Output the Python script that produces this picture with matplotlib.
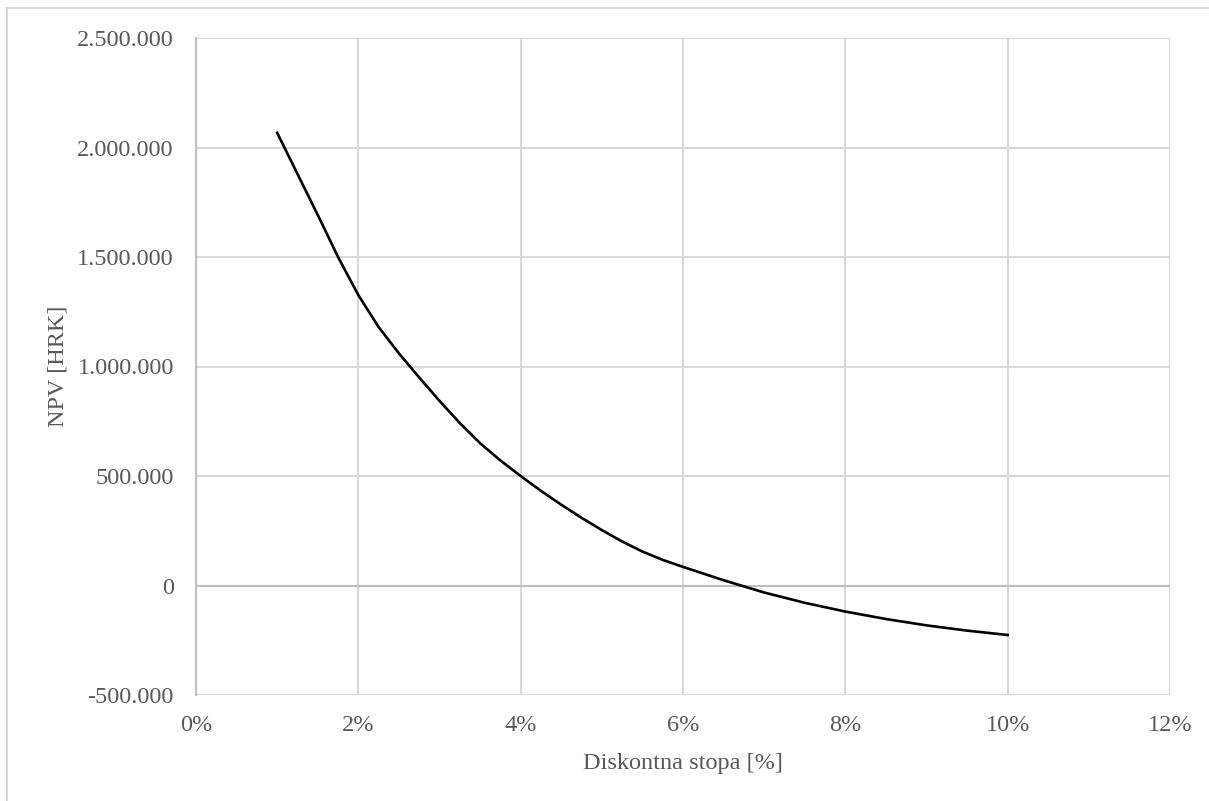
import matplotlib
matplotlib.use("Agg")
import matplotlib.pyplot as plt
from matplotlib.ticker import FuncFormatter, MultipleLocator
from matplotlib.patches import Rectangle

# Discount rate [%] and NPV [HRK]
rate_pct = [1.0, 1.5, 1.75, 2.0, 2.25, 2.5, 2.75, 3.0, 3.25, 3.5, 3.75,
            4.0, 4.25, 4.5, 4.75, 5.0, 5.25, 5.5, 5.75, 6.0, 6.5, 7.0,
            7.5, 8.0, 8.5, 9.0, 9.5, 10.0]
npv = [2067000, 1692000, 1500000, 1326000, 1180000, 1060000, 950000,
       843000, 742000, 650000, 571000, 500000, 432000, 369000, 309000,
       253000, 201000, 155000, 117000, 85000, 24000, -32000, -79000,
       -119000, -153000, -182000, -206000, -226000]

x_label = "Diskontna stopa [%]"
y_label = "NPV [HRK]"

plt.rcParams['font.family'] = ['Liberation Serif', 'DejaVu Serif']

fig = plt.figure(figsize=(12.09, 8.01), dpi=100)
ax = fig.add_axes([196/1209, 1-695/801, (1170-196)/1209, (695-38)/801])

# outer chart border (Excel chart area)
fig.patches.append(Rectangle((7/1209, -0.05), 1.2, 1-8/801+0.05,
                             transform=fig.transFigure, fill=False,
                             edgecolor='#d9d9d9', linewidth=1.5))

ax.plot([r / 100 for r in rate_pct], npv, color='black', linewidth=1.9,
        solid_joinstyle='round', zorder=3)

ax.set_xlim(0, 0.12)
ax.set_ylim(-500000, 2500000)
ax.xaxis.set_major_locator(MultipleLocator(0.02))
ax.yaxis.set_major_locator(MultipleLocator(500000))
ax.xaxis.set_major_formatter(FuncFormatter(lambda v, p: f"{round(v*100)}%"))
ax.yaxis.set_major_formatter(FuncFormatter(
    lambda v, p: f"{int(round(v)):,}".replace(",", ".")))

ax.grid(True, color='#d9d9d9', linewidth=1.5)
ax.set_axisbelow(True)
ax.axhline(0, color='#bfbfbf', linewidth=1.5, zorder=2)

for s in ['top', 'right', 'bottom']:
    ax.spines[s].set_visible(False)
ax.spines['left'].set_color('#bfbfbf')
ax.spines['left'].set_linewidth(1.5)

ax.tick_params(axis='both', length=0, labelsize=17.5, colors='#595959')
ax.tick_params(axis='y', pad=16)
ax.tick_params(axis='x', pad=14.5)

ax.set_xlabel(x_label, fontsize=17.5, color='#595959', labelpad=12)
ax.set_ylabel(y_label, fontsize=17.5, color='#595959', labelpad=6)

fig.savefig("out.png", dpi=100)
